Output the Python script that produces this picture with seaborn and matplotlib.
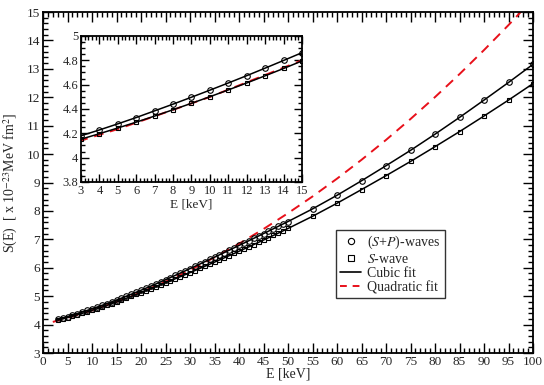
import matplotlib
matplotlib.use("Agg")
import matplotlib.pyplot as plt
from matplotlib.lines import Line2D
from matplotlib.ticker import MultipleLocator, FuncFormatter
import pandas as pd
import seaborn as sns

# --- data ---
energy = list(range(3, 51)) + [55, 60, 65, 70, 75, 80, 85, 90, 95, 100]

s_plus_p = [4.180, 4.228, 4.278, 4.330, 4.385, 4.440, 4.497, 4.555, 4.614, 4.674,
            4.736, 4.799, 4.863, 4.930, 4.998, 5.067, 5.137, 5.208, 5.280, 5.353,
            5.427, 5.502, 5.578, 5.655, 5.733, 5.811, 5.890, 5.969, 6.049, 6.129,
            6.210, 6.291, 6.372, 6.454, 6.536, 6.618, 6.701, 6.784, 6.867, 6.950,
            7.034, 7.118, 7.202, 7.286, 7.371, 7.456, 7.541, 7.626,
            8.07, 8.55, 9.06, 9.59, 10.13, 10.70, 11.29, 11.90, 12.52, 13.16]

s_wave = [4.152, 4.197, 4.244, 4.292, 4.342, 4.394, 4.447, 4.501, 4.557, 4.614,
          4.673, 4.733, 4.795, 4.860, 4.926, 4.993, 5.060, 5.127, 5.195, 5.263,
          5.332, 5.402, 5.472, 5.542, 5.613, 5.684, 5.756, 5.829, 5.901, 5.975,
          6.049, 6.123, 6.198, 6.273, 6.349, 6.426, 6.503, 6.580, 6.658, 6.736,
          6.815, 6.895, 6.975, 7.055, 7.136, 7.217, 7.299, 7.382,
          7.81, 8.27, 8.75, 9.24, 9.74, 10.26, 10.79, 11.34, 11.90, 12.48]

quad_e = [2, 5, 10, 15, 20, 25, 30, 35, 40, 45, 50, 55, 60, 65, 70, 75, 80, 85, 90, 95, 100]
quad_s = [4.094, 4.235, 4.499, 4.800, 5.136, 5.509, 5.918, 6.364, 6.845, 7.363, 7.920,
          8.508, 9.135, 9.798, 10.498, 11.234, 12.006, 12.814, 13.660, 14.540, 15.460]

sns.set_theme(style="ticks")
plt.rcParams["font.family"] = ["Liberation Serif", "DejaVu Serif"]
plt.rcParams["mathtext.fontset"] = "stix"

RED = "#e8101a"
DASH = (0, (5, 3.5))

df = pd.DataFrame({"E": energy, "SP": s_plus_p, "S": s_wave})
dq = pd.DataFrame({"E": quad_e, "Q": quad_s})

fig = plt.figure(figsize=(5.44, 3.85), dpi=100)
ax = fig.add_axes([43 / 544, 1 - 353 / 385, 490 / 544, 341 / 385])
ax_in = fig.add_axes([81 / 544, 1 - 182 / 385, 221 / 544, 146 / 385])


def draw(a, ms):
    sns.lineplot(data=dq, x="E", y="Q", ax=a, color=RED, lw=1.4,
                 linestyle=DASH, zorder=2)
    sns.lineplot(data=df, x="E", y="SP", ax=a, color="black", lw=1.1,
                 marker="o", markersize=ms, markerfacecolor="none",
                 markeredgecolor="black", markeredgewidth=0.8, zorder=3)
    sns.lineplot(data=df, x="E", y="S", ax=a, color="black", lw=1.1,
                 marker="s", markersize=ms - 0.5, markerfacecolor="none",
                 markeredgecolor="black", markeredgewidth=0.8, zorder=3)
    a.set_facecolor("white")
    for sp in a.spines.values():
        sp.set_visible(True)
        sp.set_color("black")
        sp.set_linewidth(1.3)


draw(ax, 4)
ax.set_xlim(0, 100)
ax.set_ylim(3, 15)
ax.xaxis.set_major_locator(MultipleLocator(5))
ax.xaxis.set_minor_locator(MultipleLocator(1))
ax.yaxis.set_major_locator(MultipleLocator(1))
ax.yaxis.set_minor_locator(MultipleLocator(0.2))
ax.tick_params(which="both", direction="in", top=True, right=True,
               labelsize=9.5, color="black", width=1, pad=2)
ax.tick_params(which="major", length=7)
ax.tick_params(which="minor", length=3.5)
ax.set_xlabel("E [keV]", fontsize=10, labelpad=0)
ax.set_ylabel(r"S(E)  [ x 10$^{-23}$MeV fm$^{2}$]", fontsize=10, labelpad=5)

draw(ax_in, 4)
ax_in.set_xlim(3, 15)
ax_in.set_ylim(3.8, 5)
ax_in.xaxis.set_major_locator(MultipleLocator(1))
ax_in.xaxis.set_minor_locator(MultipleLocator(0.2))
ax_in.yaxis.set_major_locator(MultipleLocator(0.2))
ax_in.yaxis.set_minor_locator(MultipleLocator(0.05))
ax_in.yaxis.set_major_formatter(FuncFormatter(lambda v, p: f"{v:g}"))
ax_in.tick_params(which="both", direction="in", top=True, right=True,
                  labelsize=9, color="black", width=1, pad=2)
ax_in.tick_params(which="major", length=6)
ax_in.tick_params(which="minor", length=3)
ax_in.set_xlabel("E [keV]", fontsize=9.5, labelpad=1)
ax_in.set_ylabel("")

handles = [
    Line2D([], [], ls="none", marker="o", markersize=4.5, markerfacecolor="none",
           markeredgecolor="black", markeredgewidth=0.8),
    Line2D([], [], ls="none", marker="s", markersize=4, markerfacecolor="none",
           markeredgecolor="black", markeredgewidth=0.8),
    Line2D([], [], color="black", lw=1.2),
    Line2D([], [], color=RED, lw=1.4, linestyle=(0, (3.5, 3))),
]
labels = [r"($\mathit{S}$+$\mathit{P}$)-waves", r"$\mathit{S}$-wave", "Cubic fit", "Quadratic fit"]
leg = ax.legend(handles, labels, loc="upper left", bbox_to_anchor=(0.598, 0.361),
                fontsize=10, frameon=True, fancybox=False, edgecolor="black",
                handlelength=1.5, borderpad=0.3, labelspacing=0.08,
                handletextpad=0.45, borderaxespad=0)
leg.get_frame().set_linewidth(1.0)

fig.savefig("out.png", dpi=100)
